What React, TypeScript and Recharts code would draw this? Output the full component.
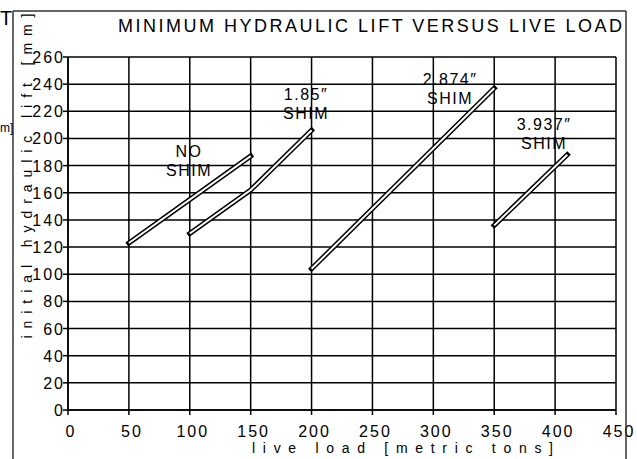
import React from "react";
import { LineChart, Line, XAxis, YAxis, CartesianGrid, ReferenceDot } from "recharts";

const xTicks = [0, 50, 100, 150, 200, 250, 300, 350, 400, 450];
const yTicks = [0, 20, 40, 60, 80, 100, 120, 140, 160, 180, 200, 220, 240, 260];

const noShim = [
  { x: 50, y: 123 },
  { x: 150, y: 187 },
];
const shim185 = [
  { x: 100, y: 130 },
  { x: 150, y: 162 },
  { x: 200, y: 206 },
];
const shim2874 = [
  { x: 200, y: 104 },
  { x: 350, y: 237 },
];
const shim3937 = [
  { x: 350, y: 136 },
  { x: 410, y: 188 },
];

const seriesList = [
  { name: "NO SHIM", data: noShim },
  { name: "1.85\u2033 SHIM", data: shim185 },
  { name: "2.874\u2033 SHIM", data: shim2874 },
  { name: "3.937\u2033 SHIM", data: shim3937 },
];

const annX = [99.4, 195.4, 313.7, 390.9];
const annY = [190.4, 233.1, 243.8, 210.6];
const annTop = ["NO", "1.85\u2033", "2.874\u2033", "3.937\u2033"];
const annBottom = ["SHIM", "SHIM", "SHIM", "SHIM"];

const FONT = "'Liberation Sans', Arial, sans-serif";

const XTick = (props: any) => {
  const { x, payload } = props;
  return (
    <text x={x + 3} y={437} textAnchor="middle" fontFamily={FONT} fontSize={16} letterSpacing={2} fill="#000">
      {payload.value}
    </text>
  );
};

const YTick = (props: any) => {
  const { y, payload } = props;
  return (
    <text x={65} y={y + 6} textAnchor="end" fontFamily={FONT} fontSize={16} letterSpacing={2} fill="#000">
      {payload.value}
    </text>
  );
};

export default function App() {
  return (
    <div style={{ position: "absolute", left: 0, top: 0, width: 637, height: 459, background: "#fff" }}>
      <LineChart
        width={637}
        height={459}
        margin={{ top: 57, right: 21, left: 0, bottom: 0 }}
      >
        <CartesianGrid stroke="#000" strokeWidth={1.5} strokeOpacity={1} />
        <XAxis
          type="number"
          dataKey="x"
          domain={[0, 450]}
          ticks={xTicks}
          interval={0}
          height={49}
          tickSize={5}
          axisLine={{ stroke: "#000", strokeWidth: 1.5 }}
          tickLine={{ stroke: "#000", strokeWidth: 1.5 }}
          tick={<XTick />}
          allowDataOverflow
        />
        <YAxis
          type="number"
          dataKey="y"
          domain={[0, 260]}
          ticks={yTicks}
          interval={0}
          width={68}
          tickSize={5}
          axisLine={{ stroke: "#000", strokeWidth: 1.5 }}
          tickLine={{ stroke: "#000", strokeWidth: 1.5 }}
          tick={<YTick />}
          allowDataOverflow
        />
        {seriesList.map((s) => (
          <Line
            key={s.name + "-outer"}
            data={s.data}
            dataKey="y"
            type="linear"
            stroke="#000"
            strokeWidth={5}
            strokeLinecap="square"
            strokeLinejoin="miter"
            dot={false}
            activeDot={false}
            isAnimationActive={false}
            legendType="none"
          />
        ))}
        {seriesList.map((s) => (
          <Line
            key={s.name + "-inner"}
            data={s.data}
            dataKey="y"
            type="linear"
            stroke="#fff"
            strokeWidth={2}
            strokeLinecap="butt"
            strokeLinejoin="miter"
            dot={false}
            activeDot={false}
            isAnimationActive={false}
            legendType="none"
          />
        ))}
        {annX.map((ax, i) => (
          <ReferenceDot
            key={"ann" + i}
            x={ax}
            y={annY[i]}
            r={0}
            shape={(p: any) => (
              <g>
                <text x={p.cx} y={p.cy + 6} textAnchor="middle" fontFamily={FONT} fontSize={16} letterSpacing={1.5} fill="#000">
                  {annTop[i]}
                </text>
                <text x={p.cx} y={p.cy + 25} textAnchor="middle" fontFamily={FONT} fontSize={16} letterSpacing={1.5} fill="#000">
                  {annBottom[i]}
                </text>
              </g>
            )}
          />
        ))}
      </LineChart>
      <svg
        width={637}
        height={459}
        style={{ position: "absolute", left: 0, top: 0, pointerEvents: "none" }}
      >
        <line x1={13} y1={11} x2={13} y2={459} stroke="#333" strokeWidth={1.5} />
        <line x1={13} y1={11} x2={626} y2={11} stroke="#333" strokeWidth={1.5} />
        <line x1={626} y1={11} x2={626} y2={459} stroke="#333" strokeWidth={1.5} />
        <text x={0} y={25} fontFamily={FONT} fontSize={20} fill="#000">T</text>
        <text x={0} y={132} fontFamily={FONT} fontSize={12} fill="#000">m]</text>
        <text x={118} y={31.5} fontFamily={FONT} fontSize={18} fill="#000" textLength={504} lengthAdjust="spacing">
          MINIMUM HYDRAULIC LIFT VERSUS LIVE LOAD
        </text>
        <text x={252} y={453} fontFamily={FONT} fontSize={14} fill="#000" textLength={301} lengthAdjust="spacing">
          live load [metric tons]
        </text>
        <text
          transform="translate(32,176) rotate(-90)"
          x={0}
          y={0}
          textAnchor="middle"
          fontFamily={FONT}
          fontSize={14}
          fill="#000"
          textLength={325}
          lengthAdjust="spacing"
        >
          initial hydraulic lift [mm]
        </text>
      </svg>
    </div>
  );
}
